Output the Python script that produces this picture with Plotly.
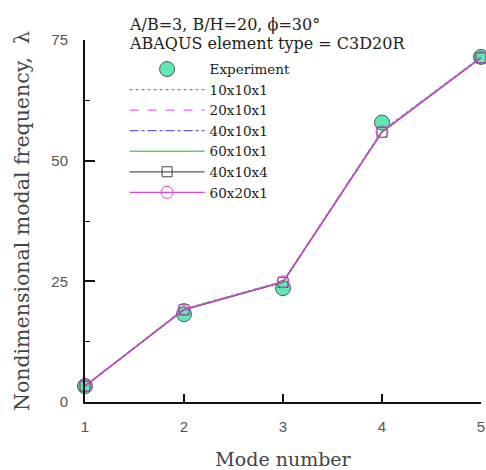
import plotly.graph_objects as go

modes = [1, 2, 3, 4, 5]
experiment = [3.3, 18.2, 23.6, 57.9, 71.5]
fe_10x10x1 = [3.3, 19.3, 25.0, 56.2, 71.5]
fe_20x10x1 = [3.3, 19.2, 24.9, 56.1, 71.4]
fe_40x10x1 = [3.3, 19.2, 24.9, 56.0, 71.4]
fe_60x10x1 = [3.3, 19.2, 24.9, 56.0, 71.4]
fe_40x10x4 = [3.3, 19.1, 24.8, 55.9, 71.3]
fe_60x20x1 = [3.3, 19.2, 24.9, 56.0, 71.4]

serif = "DejaVu Serif, serif"
sans = "Liberation Sans, Arial, sans-serif"

fig = go.Figure()
fig.add_trace(go.Scatter(x=modes, y=experiment, mode="markers", name="Experiment",
                         marker=dict(size=15, color="#5fe8b4", line=dict(color="#555555", width=1)),
                         cliponaxis=False))
fig.add_trace(go.Scatter(x=modes, y=fe_10x10x1, mode="lines", name="10x10x1",
                         line=dict(color="#888888", width=1.2, dash="dot"), cliponaxis=False))
fig.add_trace(go.Scatter(x=modes, y=fe_20x10x1, mode="lines", name="20x10x1",
                         line=dict(color="#ee66ee", width=1.2, dash="dash"), cliponaxis=False))
fig.add_trace(go.Scatter(x=modes, y=fe_40x10x1, mode="lines", name="40x10x1",
                         line=dict(color="#6a5acd", width=1.2, dash="dashdot"), cliponaxis=False))
fig.add_trace(go.Scatter(x=modes, y=fe_60x10x1, mode="lines", name="60x10x1",
                         line=dict(color="#66cc66", width=1.5), cliponaxis=False))
fig.add_trace(go.Scatter(x=modes, y=fe_40x10x4, mode="lines+markers", name="40x10x4",
                         line=dict(color="#555555", width=1.2),
                         marker=dict(symbol="square-open", size=10, color="#444444", line=dict(width=1)),
                         cliponaxis=False))
fig.add_trace(go.Scatter(x=modes, y=fe_60x20x1, mode="lines+markers", name="60x20x1",
                         line=dict(color="#dd44dd", width=1.2),
                         marker=dict(symbol="circle-open", size=12, color="#dd44dd", line=dict(width=1)),
                         cliponaxis=False))

fig.update_layout(
    width=486, height=470,
    margin=dict(l=85, r=5, t=40, b=68),
    paper_bgcolor="white", plot_bgcolor="white",
    showlegend=True,
    legend=dict(x=0.1, y=0.962, xanchor="left", yanchor="top",
                font=dict(family=serif, size=13.5, color="#222222"),
                bgcolor="rgba(0,0,0,0)", itemwidth=75, tracegroupgap=0),
    xaxis=dict(range=[1, 5], tickvals=modes, ticks="inside", ticklen=8, tickwidth=1.5,
               tickcolor="#111111", showline=True, linecolor="#111111", linewidth=2,
               showgrid=False, zeroline=False, automargin=False, ticklabelstandoff=10,
               tickfont=dict(family=sans, size=15, color="#555555"),
               title=dict(text="Mode number", font=dict(family=serif, size=19, color="#444444"), standoff=20)),
    yaxis=dict(range=[0, 75], tickvals=[0, 25, 50, 75], ticks="inside", ticklen=10, tickwidth=1.5,
               tickcolor="#111111", showline=True, linecolor="#111111", linewidth=2,
               showgrid=False, zeroline=False, automargin=False, ticklabelstandoff=12,
               minor=dict(tickvals=[12.5, 37.5, 62.5], ticks="inside", ticklen=5, tickwidth=1, tickcolor="#111111"),
               tickfont=dict(family=sans, size=15, color="#555555"),
               title=dict(text="Nondimensional modal frequency,  λ",
                          font=dict(family=serif, size=20.5, color="#444444"), standoff=16)),
    annotations=[
        dict(text="A/B=3, B/H=20, ϕ=30°", xref="paper", yref="paper", x=0.105, y=1.01,
             xanchor="left", yanchor="bottom", showarrow=False,
             font=dict(family=serif, size=16, color="#222222")),
        dict(text="ABAQUS element type = C3D20R", xref="paper", yref="paper", x=0.105, y=1.022,
             xanchor="left", yanchor="top", showarrow=False,
             font=dict(family=serif, size=16, color="#222222")),
    ],
)

fig.write_html("out.html")
